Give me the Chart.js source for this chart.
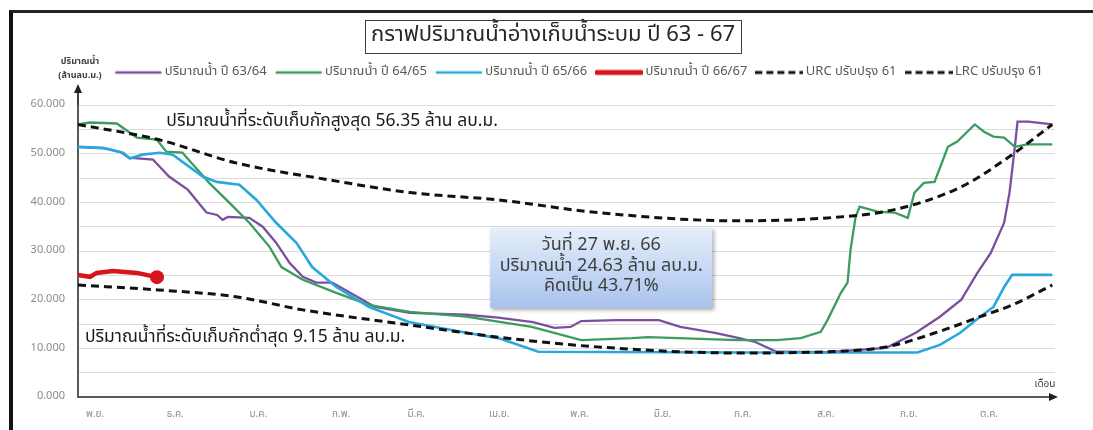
<!DOCTYPE html>
<html lang="th">
<head>
<meta charset="utf-8">
<title>กราฟปริมาณน้ำอ่างเก็บน้ำระบม ปี 63 - 67</title>
<script src="https://cdn.jsdelivr.net/npm/chart.js@4.4.1/dist/chart.umd.min.js"></script>
<style>
  html, body { margin: 0; padding: 0; background: #fff; }
  #wrap { position: relative; width: 1093px; height: 430px; overflow: hidden; }
  #frame { position: absolute; left: 9px; top: 10px; right: -10px; bottom: -10px;
           border-left: 4px solid #111; border-top: 3px solid #222; }
  canvas { position: absolute; left: 0; top: 0; }
</style>
</head>
<body>
<div id="wrap">
  <div id="frame"></div>
  <canvas id="chart" width="1093" height="430"></canvas>
</div>
<script>
// x axis = days counted from 1 Nov
const monthLabels = ["พ.ย.", "ธ.ค.", "ม.ค.", "ก.พ.", "มี.ค.", "เม.ย.", "พ.ค.", "มิ.ย.", "ก.ค.", "ส.ค.", "ก.ย.", "ต.ค."];
const monthStartDays = [0, 30, 61, 92, 120, 151, 181, 212, 242, 273, 304, 334];

const chartTitle = "กราฟปริมาณน้ำอ่างเก็บน้ำระบม ปี 63 - 67";
const seriesNames = ["ปริมาณน้ำ ปี 63/64", "ปริมาณน้ำ ปี 64/65", "ปริมาณน้ำ ปี 65/66", "ปริมาณน้ำ ปี 66/67", "URC ปรับปรุง 61", "LRC ปรับปรุง 61"];

// ปริมาณน้ำ ปี 63/64
const y6364Days = [0, 10, 16, 19, 28, 34, 41, 48, 52, 54, 56, 64, 69, 74, 79, 84, 89, 95, 103, 111, 124, 145, 157, 170, 178, 184, 188, 201, 217, 225, 238, 247, 253, 261, 280, 302, 313, 322, 330, 336, 341, 346, 348, 350, 351, 355, 364];
const y6364Vals = [51.4, 51.1, 50.3, 49.2, 48.8, 45.3, 42.6, 37.9, 37.4, 36.4, 37.0, 36.8, 35.0, 31.7, 27.6, 24.7, 23.5, 23.5, 21.0, 18.5, 17.3, 16.9, 16.3, 15.4, 14.2, 14.4, 15.6, 15.8, 15.8, 14.4, 13.2, 12.1, 11.3, 9.3, 9.2, 10.1, 13.2, 16.5, 20.0, 25.5, 29.6, 35.8, 42.0, 51.4, 56.6, 56.6, 56.0];

// ปริมาณน้ำ ปี 64/65
const y6465Days = [0, 4.5, 14.5, 19.4, 22, 29.4, 33, 39, 43, 49, 56.6, 64, 71.5, 76, 84, 96.5, 109, 124, 145, 169.5, 188, 207, 213, 246.5, 261, 270, 277.5, 280, 285, 287.5, 288.6, 290.5, 292, 298.7, 305, 310, 312.5, 316, 320, 325, 328.5, 335, 338.5, 342, 346, 350, 354.6, 364];
const y6465Vals = [56.0, 56.4, 56.2, 54.3, 53.3, 52.9, 50.4, 50.2, 47.7, 44.0, 39.9, 35.8, 30.9, 26.7, 24.1, 21.4, 18.9, 17.5, 16.5, 14.4, 11.7, 12.1, 12.3, 11.7, 11.7, 12.1, 13.4, 15.8, 21.4, 23.5, 30.2, 37.0, 39.1, 38.1, 37.9, 36.8, 42.0, 44.0, 44.2, 51.4, 52.5, 56.0, 54.5, 53.5, 53.3, 51.4, 51.9, 51.9];

// ปริมาณน้ำ ปี 65/66
const y6566Days = [0, 9.3, 16.8, 19.4, 24, 30.5, 35.4, 40.6, 46.6, 51.8, 60.3, 66.7, 74, 81.6, 87.5, 96.5, 108.8, 123.6, 145, 157, 172, 246.5, 313.6, 322, 329.6, 337, 342, 346, 349, 364];
const y6566Vals = [51.4, 51.2, 50.2, 49.0, 49.8, 50.2, 49.8, 47.7, 45.3, 44.2, 43.6, 40.5, 35.8, 31.7, 26.7, 22.6, 18.5, 15.4, 13.2, 12.1, 9.3, 9.15, 9.15, 10.7, 13.2, 16.5, 18.5, 22.6, 25.1, 25.1];

// ปริมาณน้ำ ปี 66/67 (ถึง 27 พ.ย. 66)
const y6667Days = [0, 4.5, 7, 13, 22, 29.5];
const y6667Vals = [25.1, 24.7, 25.5, 25.9, 25.5, 24.63];

// rule curves
const urcDays = [0, 30, 59, 94, 124, 157, 194, 246, 280, 305, 330, 348, 364];
const urcVals = [56.0, 52.9, 48.1, 44.6, 42.0, 40.5, 37.9, 36.2, 36.8, 38.5, 43.2, 49.4, 56.0];
const lrcDays = [0, 30, 59, 84, 124, 157, 194, 246, 280, 302, 323, 337, 349, 364];
const lrcVals = [23.0, 22.0, 20.6, 17.9, 14.8, 12.3, 10.3, 9.05, 9.3, 10.3, 13.7, 16.5, 18.9, 23.0];

const maxLabel = "ปริมาณน้ำที่ระดับเก็บกักสูงสุด 56.35 ล้าน ลบ.ม.";
const minLabel = "ปริมาณน้ำที่ระดับเก็บกักต่ำสุด 9.15 ล้าน ลบ.ม.";
const infoLines = ["วันที่ 27 พ.ย. 66", "ปริมาณน้ำ 24.63 ล้าน ลบ.ม.", "คิดเป็น 43.71%"];

const FONT = "Tahoma, 'Noto Sans Thai', 'Noto Sans', 'DejaVu Sans', sans-serif";
Chart.defaults.font.family = FONT;

const colors = ["#7b4f9e", "#3a9d5d", "#2aa8dc", "#d7141b", "#111111", "#111111"];

const pts = (days, vals) => days.map((d, i) => ({ x: d, y: vals[i] }));

// little line samples for the legend
function swatch(color, width, dash) {
  const c = document.createElement("canvas");
  c.width = 48; c.height = 8;
  const g = c.getContext("2d");
  g.strokeStyle = color; g.lineWidth = width; g.setLineDash(dash);
  g.lineCap = dash.length ? "butt" : "round";
  g.beginPath(); g.moveTo(dash.length ? 0 : 2, 4); g.lineTo(dash.length ? 48 : 46, 4); g.stroke();
  return c;
}
const swatches = [
  swatch(colors[0], 2.5, []), swatch(colors[1], 2.5, []), swatch(colors[2], 2.5, []),
  swatch(colors[3], 5, []), swatch(colors[4], 3, [7, 4]), swatch(colors[5], 3, [7, 4])
];

const decor = {
  id: "decor",
  afterDraw(chart) {
    const { ctx, chartArea: a, scales: { x, y } } = chart;
    ctx.save();

    // title in a box
    ctx.font = "22px " + FONT;
    ctx.fillStyle = "#262626";
    ctx.textAlign = "center";
    ctx.textBaseline = "middle";
    const tw = ctx.measureText(chartTitle).width;
    const cx = 553, cy = 37;
    ctx.fillText(chartTitle, cx, cy);
    ctx.strokeStyle = "#404040";
    ctx.lineWidth = 1;
    ctx.strokeRect(Math.round(cx - tw / 2 - 6) + 0.5, 20.5, Math.round(tw + 12), 33);

    // axis arrows
    ctx.strokeStyle = "#404040";
    ctx.fillStyle = "#202020";
    ctx.lineWidth = 2;
    ctx.beginPath(); ctx.moveTo(a.left, a.top); ctx.lineTo(a.left, a.top - 14); ctx.stroke();
    ctx.beginPath();
    ctx.moveTo(a.left, a.top - 21); ctx.lineTo(a.left - 4, a.top - 12); ctx.lineTo(a.left + 4, a.top - 12);
    ctx.closePath(); ctx.fill();
    ctx.beginPath();
    ctx.moveTo(a.right + 3, a.bottom); ctx.lineTo(a.right - 6, a.bottom - 4); ctx.lineTo(a.right - 6, a.bottom + 4);
    ctx.closePath(); ctx.fill();

    // axis titles
    ctx.fillStyle = "#404040";
    ctx.font = "bold 9px " + FONT;
    ctx.fillText("ปริมาณน้ำ", a.left + 2, 62);
    ctx.fillText("(ล้านลบ.ม.)", a.left + 2, 76);
    ctx.font = "10px " + FONT;
    ctx.fillText("เดือน", a.right - 10, a.bottom - 12);

    // max / min storage notes
    ctx.fillStyle = "#1a1a1a";
    ctx.font = "17.5px " + FONT;
    ctx.textAlign = "left";
    ctx.fillText(maxLabel, x.getPixelForValue(33), y.getPixelForValue(56.4));
    ctx.fillText(minLabel, x.getPixelForValue(2.6), y.getPixelForValue(12.0));

    // info box
    const bx = x.getPixelForValue(154), bx2 = x.getPixelForValue(237);
    const by = y.getPixelForValue(34.8), by2 = y.getPixelForValue(18.3);
    const grad = ctx.createLinearGradient(0, by, 0, by2);
    grad.addColorStop(0, "#e6eefa");
    grad.addColorStop(1, "#a9c3ee");
    ctx.shadowColor = "rgba(0,0,0,0.35)";
    ctx.shadowBlur = 4; ctx.shadowOffsetX = 2; ctx.shadowOffsetY = 2;
    ctx.fillStyle = grad;
    ctx.fillRect(bx, by, bx2 - bx, by2 - by);
    ctx.shadowColor = "transparent";
    ctx.fillStyle = "#3f3f3f";
    ctx.font = "18px " + FONT;
    ctx.textAlign = "center";
    const mid = (bx + bx2) / 2;
    [30.9, 26.6, 22.6].forEach((v, i) => ctx.fillText(infoLines[i], mid, y.getPixelForValue(v)));

    ctx.restore();
  }
};

const lineSet = (i, days, vals, extra) => Object.assign({
  label: seriesNames[i],
  data: pts(days, vals),
  borderColor: colors[i],
  backgroundColor: colors[i],
  borderWidth: 2.3,
  pointRadius: 0,
  tension: 0,
  order: 6 - i
}, extra || {});

new Chart(document.getElementById("chart"), {
  type: "line",
  data: {
    datasets: [
      lineSet(0, y6364Days, y6364Vals),
      lineSet(1, y6465Days, y6465Vals),
      lineSet(2, y6566Days, y6566Vals, { borderWidth: 2.6 }),
      lineSet(3, y6667Days, y6667Vals, {
        borderWidth: 4.5,
        pointRadius: c => c.dataIndex === y6667Days.length - 1 ? 7 : 0,
        pointBorderWidth: 0
      }),
      lineSet(4, urcDays, urcVals, { borderWidth: 3, borderDash: [8, 5], cubicInterpolationMode: "monotone" }),
      lineSet(5, lrcDays, lrcVals, { borderWidth: 3, borderDash: [8, 5], cubicInterpolationMode: "monotone" })
    ]
  },
  options: {
    responsive: false,
    animation: false,
    devicePixelRatio: 1,
    layout: { padding: { left: 10, right: 38, top: 54, bottom: 0 } },
    plugins: {
      title: { display: false },
      // empty subtitle used as a gap between legend and plot
      subtitle: { display: true, text: "", weight: 500, font: { size: 10 }, padding: { top: 0, bottom: 4 } },
      tooltip: { enabled: false },
      legend: {
        position: "top",
        align: "end",
        labels: {
          usePointStyle: true,
          pointStyleWidth: 40,
          boxHeight: 8,
          padding: 12,
          color: "#595959",
          font: { size: 13 },
          sort: (a, b) => a.datasetIndex - b.datasetIndex,
          generateLabels: chart => Chart.defaults.plugins.legend.labels.generateLabels(chart)
            .map(it => Object.assign(it, { pointStyle: swatches[it.datasetIndex] }))
        }
      }
    },
    scales: {
      x: {
        type: "linear",
        min: 0,
        max: 365,
        grid: { display: false },
        border: { display: true, color: "#595959", width: 2 },
        afterBuildTicks: s => { s.ticks = monthStartDays.map(v => ({ value: v })); },
        afterFit: s => { s.height = 33; },
        ticks: {
          autoSkip: false,
          maxRotation: 0,
          labelOffset: 17,
          padding: 4,
          color: "#8c8c8c",
          font: { size: 10 },
          callback: (v, i) => monthLabels[i]
        }
      },
      y: {
        min: 0,
        max: 60,
        afterFit: s => { s.width = 68; },
        grid: { color: "#dcdcdc", lineWidth: 1, drawTicks: false },
        border: { display: true, color: "#595959", width: 2 },
        ticks: {
          stepSize: 5,
          padding: 13,
          color: "#8c8c8c",
          font: { size: 11 },
          callback: v => v % 10 === 0 ? v.toFixed(3) : ""
        }
      }
    }
  },
  plugins: [decor]
});
</script>
</body>
</html>
